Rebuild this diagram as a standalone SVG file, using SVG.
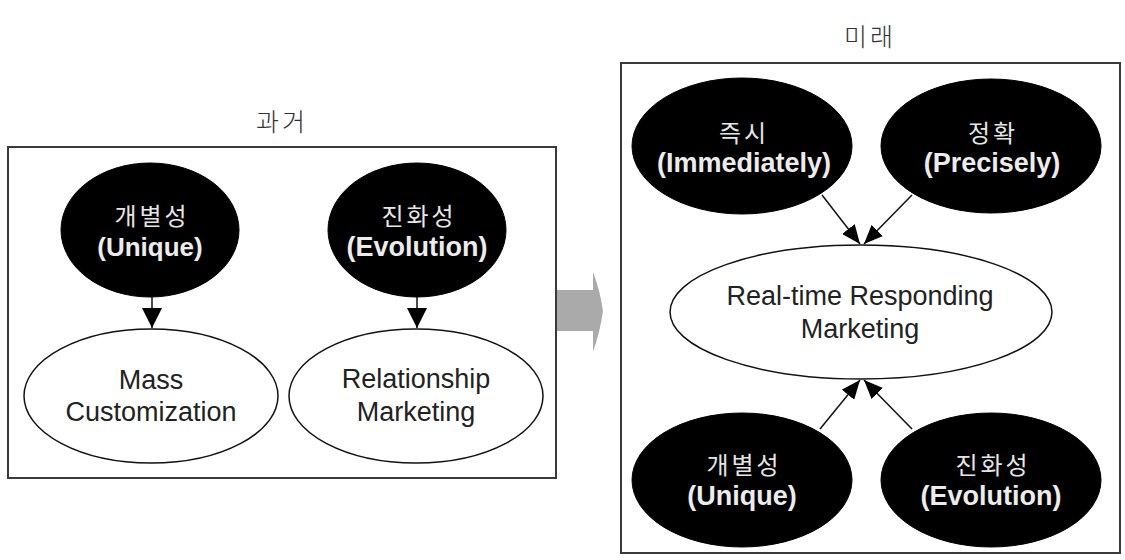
<svg xmlns="http://www.w3.org/2000/svg" width="1125" height="560" viewBox="0 0 1125 560">
<style>
.frame{fill:none;stroke:#3a3a3a;stroke-width:2}
.dark{fill:#000;stroke:#000;stroke-width:1}
.light{fill:#fff;stroke:#111;stroke-width:1.5}
.title{font-family:"Noto Sans CJK KR","Noto Sans",sans-serif;font-weight:300;font-size:25px;fill:#333;text-anchor:middle;letter-spacing:3px}
.kr{font-family:"Noto Sans CJK KR",sans-serif;font-size:24px;fill:#e6e6e6;text-anchor:middle;letter-spacing:3px}
.en{font-family:"Liberation Sans",Arial,sans-serif;font-weight:bold;font-size:26px;fill:#ececec;text-anchor:middle}
.en2{font-family:"Liberation Sans",Arial,sans-serif;font-weight:bold;font-size:27px;fill:#ececec;text-anchor:middle}
.lbl{font-family:"Liberation Sans",Arial,sans-serif;font-size:27px;fill:#222;text-anchor:middle}
.edge{stroke:#111;stroke-width:1.5;fill:none}
</style>
<defs>
<marker id="ahBig" markerUnits="userSpaceOnUse" markerWidth="20" markerHeight="20" refX="20" refY="10" orient="auto">
<path d="M0,0 L20,10 L0,20 z" fill="#000"/>
</marker>
<marker id="ah" markerUnits="userSpaceOnUse" markerWidth="19" markerHeight="16" refX="19" refY="8" orient="auto">
<path d="M0,0 L19,8 L0,16 z" fill="#000"/>
</marker>
</defs>

<g id="past-frame">
<rect class="frame" x="8" y="147" width="548" height="331"/>
<text class="title" x="282" y="131">과거</text>
</g>

<g id="future-frame">
<rect class="frame" x="621" y="63" width="499" height="490"/>
<text class="title" x="870" y="46">미래</text>
</g>

<g id="transition-arrow">
<path d="M557,290 L593,290 L593,272 Q600,290 603,311 Q600,332 593,352 L593,331 L557,331 z" fill="#aaaaaa"/>
</g>

<g id="connectors">
<line class="edge" x1="152" y1="297" x2="152" y2="328" marker-end="url(#ahBig)"/>
<line class="edge" x1="417" y1="297" x2="417" y2="328" marker-end="url(#ahBig)"/>
<line class="edge" x1="822" y1="195" x2="860" y2="244" marker-end="url(#ah)"/>
<line class="edge" x1="912" y1="195" x2="864" y2="244" marker-end="url(#ah)"/>
<line class="edge" x1="820" y1="429" x2="860" y2="380" marker-end="url(#ah)"/>
<line class="edge" x1="912" y1="429" x2="864" y2="380" marker-end="url(#ah)"/>
</g>

<g id="past-unique">
<ellipse class="dark" cx="150" cy="230" rx="89" ry="67"/>
<text class="kr" x="152" y="225">개별성</text>
<text class="en" x="150" y="256">(Unique)</text>
</g>

<g id="past-evolution">
<ellipse class="dark" cx="417" cy="230" rx="89" ry="67"/>
<text class="kr" x="419" y="225">진화성</text>
<text class="en2" x="417" y="256">(Evolution)</text>
</g>

<g id="mass-customization">
<ellipse class="light" cx="151" cy="396" rx="127" ry="67"/>
<text class="lbl" x="151" y="389">Mass</text>
<text class="lbl" x="151" y="421">Customization</text>
</g>

<g id="relationship-marketing">
<ellipse class="light" cx="416" cy="396" rx="127" ry="67"/>
<text class="lbl" x="416" y="388">Relationship</text>
<text class="lbl" x="416" y="421">Marketing</text>
</g>

<g id="immediately">
<ellipse class="dark" cx="742" cy="146" rx="110" ry="68"/>
<text class="kr" x="744" y="142">즉시</text>
<text class="en2" x="744" y="172">(Immediately)</text>
</g>

<g id="precisely">
<ellipse class="dark" cx="991" cy="146" rx="110" ry="67"/>
<text class="kr" x="993" y="142">정확</text>
<text class="en2" x="992" y="172">(Precisely)</text>
</g>

<g id="realtime-marketing">
<ellipse class="light" cx="861" cy="312" rx="191" ry="67"/>
<text class="lbl" x="860" y="305">Real-time Responding</text>
<text class="lbl" x="860" y="338">Marketing</text>
</g>

<g id="future-unique">
<ellipse class="dark" cx="742" cy="480" rx="110" ry="67"/>
<text class="kr" x="744" y="474">개별성</text>
<text class="en2" x="742" y="505">(Unique)</text>
</g>

<g id="future-evolution">
<ellipse class="dark" cx="991" cy="480" rx="110" ry="67"/>
<text class="kr" x="993" y="474">진화성</text>
<text class="en2" x="991" y="505">(Evolution)</text>
</g>
</svg>
